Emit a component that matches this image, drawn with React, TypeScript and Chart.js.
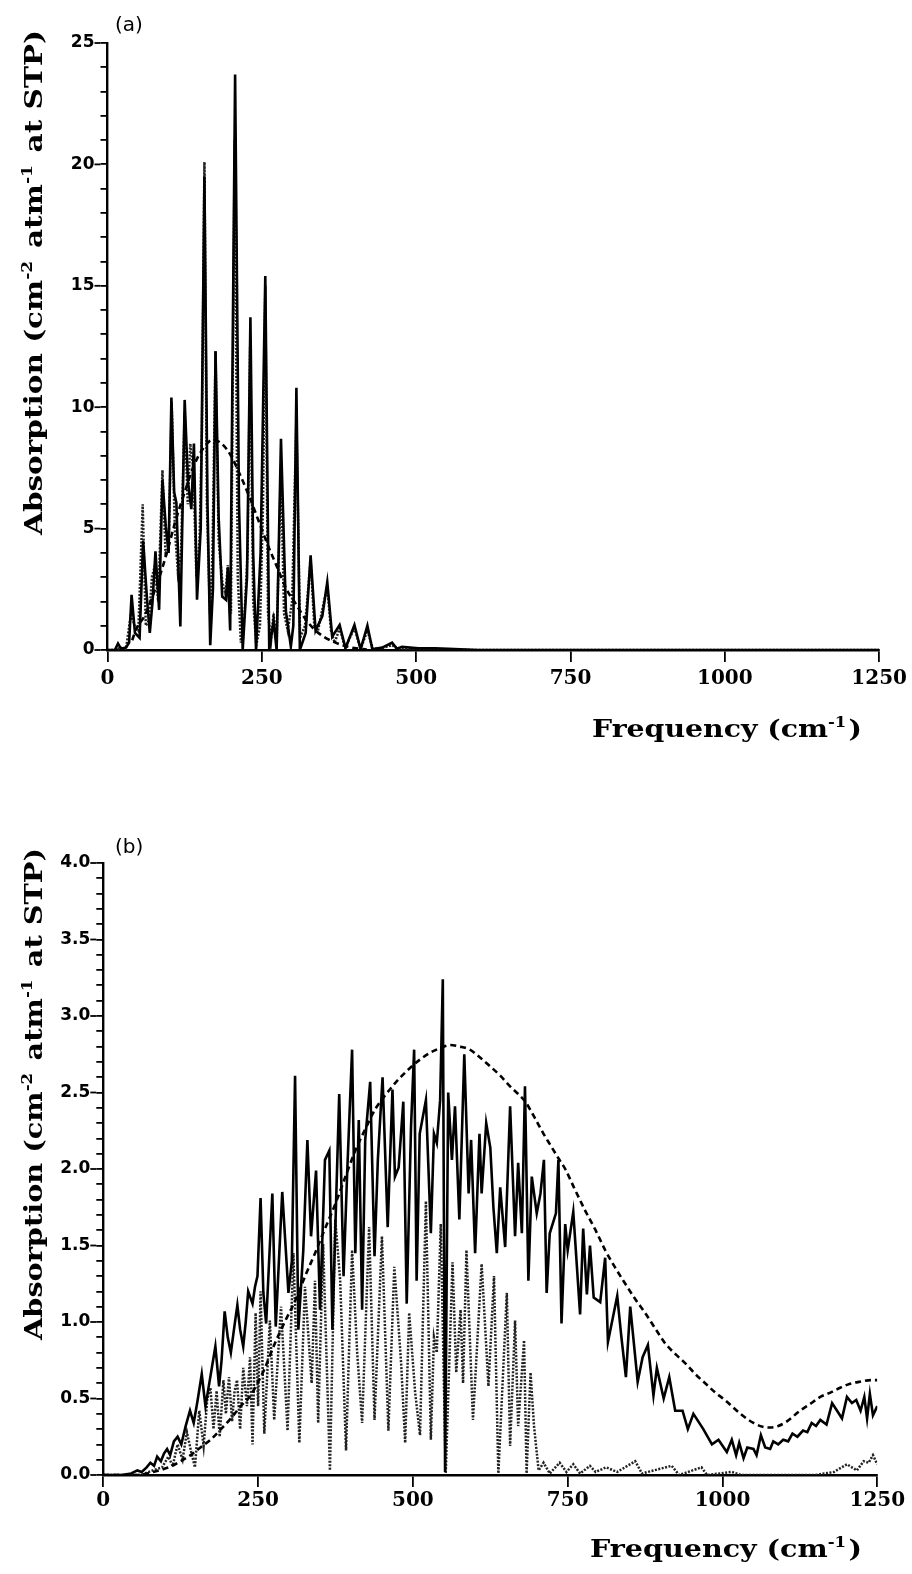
import React, { useEffect, useRef } from 'react';
import { Chart, registerables } from 'chart.js';

Chart.register(...registerables);

type Pt = [number, number];

// ---------- Panel (a) ----------
const aSolid: Pt[] = [
  [0, 0], [12, 0], [17, 0.27], [22, 0.05], [30, 0.1], [35, 0.3], [39, 2.27], [44.5, 0.7], [52, 0.5], [57.7, 4.5],
  [64, 2.1], [68.5, 0.7], [73, 2.0], [77.7, 4.06], [83.6, 1.65], [89, 7.0], [94.4, 5.1], [99, 4.0], [103.5, 10.4], [108, 6.5],
  [111.6, 6.06], [118, 0.97], [125, 10.3], [130.4, 6.9], [135.8, 5.8], [140, 8.5], [145, 2.07], [151, 5.0], [157, 19.5], [162, 6.0],
  [166.4, 0.2], [170.8, 2.5], [175, 12.3], [180, 5.5], [185.8, 2.2], [192, 2.07], [194.9, 3.4], [198.7, 0.8], [206.7, 23.7], [213, 6.0],
  [219, 0], [226, 3.0], [231.5, 13.7], [236, 4.0], [240.6, 0], [248, 4.0], [255.6, 15.4], [262, 0], [269, 1.2], [274, 0],
  [281, 8.7], [289, 1.6], [297, 0.14], [301, 1.0], [306, 10.8], [311.6, 0], [321, 0.7], [329, 3.9], [337, 0.8], [348, 1.4],
  [356, 2.8], [364, 0.55], [376, 1.03], [385.5, 0.07], [400, 1.03], [410, 0.03], [421, 1.0], [429, 0.03], [445, 0.1], [461, 0.3],
  [469, 0.05], [477, 0.13], [504, 0.07], [531, 0.07], [552, 0.05], [600, 0], [1250, 0],
];

const aDotted: Pt[] = [
  [0, 0], [15, 0], [20, 0.1], [30, 0.05], [38, 1.5], [44, 1.0], [50, 0.8], [57, 6.0], [62, 1.0], [67, 1.2],
  [72, 3.0], [77, 3.5], [82, 2.0], [89, 7.4], [94, 4.0], [99, 4.2], [104, 10.2], [109, 5.0], [114, 3.2], [119, 4.0],
  [125, 9.8], [130, 6.0], [134, 8.5], [139, 7.5], [144, 3.0], [149, 4.5], [153, 9.0], [157, 20.1], [161, 6.0], [166, 1.5],
  [170, 4.0], [175, 12.3], [180, 4.5], [186, 2.8], [191, 2.3], [195, 3.5], [200, 1.5], [206, 21.0], [211, 3.0], [216, 0.3],
  [222, 1.5], [227, 4.0], [231, 12.5], [236, 2.0], [241, 0.2], [247, 1.0], [252, 6.0], [255.6, 15.0], [260, 1.5], [265, 0.4],
  [269, 1.5], [274, 0.3], [281, 7.5], [286, 1.5], [292, 0.8], [299, 2.0], [306, 9.5], [312, 0.5], [320, 1.0], [329, 3.7],
  [335, 1.0], [341, 0.8], [349, 1.8], [356, 2.6], [362, 0.8], [368, 0.3], [376, 0.9], [385, 0.1], [400, 0.9], [410, 0.05],
  [421, 0.8], [430, 0.05], [445, 0.08], [461, 0.2], [470, 0.05], [500, 0.05], [550, 0.02], [600, 0], [1250, 0],
];

const aDashed: Pt[] = [
  [40, 0.4], [47, 0.9], [60, 1.4], [80, 2.7], [95, 3.9], [110, 5.3], [125, 6.5], [140, 7.6], [155, 8.3], [170, 8.65],
  [185, 8.5], [200, 8.0], [215, 7.2], [230, 6.3], [245, 5.3], [260, 4.3], [275, 3.4], [290, 2.5], [305, 1.9], [320, 1.3],
  [335, 0.85], [350, 0.55], [365, 0.35], [380, 0.2], [400, 0.08], [420, 0.02],
];

// ---------- Panel (b) ----------
const bSolid: Pt[] = [
  [0, 0], [30, 0], [45, 0.01], [55, 0.03], [62, 0.02], [70, 0.05], [76, 0.08], [82, 0.06], [87, 0.12], [93, 0.09],
  [98, 0.14], [103, 0.17], [108, 0.13], [114, 0.22], [120, 0.25], [126, 0.2], [133, 0.32], [140, 0.42], [146, 0.34], [152, 0.48],
  [159, 0.66], [165, 0.45], [172, 0.62], [181, 0.84], [187, 0.58], [191, 0.75], [196, 1.07], [201, 0.9], [206, 0.8], [211, 0.95],
  [216.5, 1.11], [221, 0.95], [226, 0.84], [230, 1.0], [234, 1.2], [241, 1.12], [245, 1.23], [249, 1.3], [254, 1.81], [258.5, 1.19],
  [263, 0.99], [273, 1.84], [278.5, 0.97], [289, 1.85], [299, 1.19], [304.5, 1.4], [309.7, 2.61], [315, 0.95], [323, 1.47], [329.6, 2.19],
  [335.5, 1.56], [343.6, 1.99], [350, 1.08], [358, 2.06], [365, 2.12], [370, 0.95], [381, 2.49], [388, 1.3], [393.8, 1.97], [401.8, 2.78],
  [407, 1.45], [412.6, 2.32], [418, 1.08], [423, 2.19], [431, 2.57], [438, 1.43], [443.4, 2.06], [451, 2.6], [459.3, 1.62], [467, 2.52],
  [471, 1.95], [477, 2.01], [484.5, 2.44], [490, 1.12], [497, 2.28], [502, 2.78], [506, 1.27], [511, 2.23], [521, 2.45], [529, 1.58],
  [534, 2.23], [538.6, 2.17], [544, 2.45], [548.3, 3.24], [552, 0.02], [557, 2.5], [563, 2.06], [568, 2.41], [575, 1.67], [583, 2.75],
  [590, 1.84], [594, 2.19], [600.5, 1.45], [607.5, 2.23], [611, 1.84], [618.4, 2.3], [625, 2.14], [630, 1.75], [635.5, 1.45], [641, 1.88],
  [649, 1.49], [657, 2.41], [665, 1.56], [670, 2.04], [676, 1.58], [681, 2.54], [686.5, 1.27], [692, 1.95], [700, 1.71], [706, 1.84],
  [711.6, 2.06], [716, 1.19], [721, 1.58], [731, 1.71], [735, 2.06], [740, 0.99], [746, 1.64], [750, 1.47], [759, 1.72], [770, 1.05],
  [775, 1.61], [781, 1.18], [786, 1.5], [792, 1.16], [802.5, 1.13], [810.5, 1.42], [815, 0.87], [830, 1.17], [836.5, 0.91], [844, 0.64],
  [851, 1.1], [863, 0.61], [871, 0.77], [879.5, 0.85], [888.5, 0.52], [894, 0.7], [905, 0.5], [914, 0.64], [923.6, 0.42], [935.5, 0.42],
  [944, 0.3], [953, 0.4], [969, 0.3], [983, 0.2], [993.5, 0.23], [1002, 0.18], [1007, 0.15], [1015, 0.23], [1022, 0.13], [1027, 0.21],
  [1034, 0.11], [1040, 0.18], [1050, 0.17], [1055, 0.13], [1062, 0.26], [1069, 0.18], [1077, 0.17], [1082, 0.22], [1090, 0.2], [1098, 0.23],
  [1106, 0.22], [1113, 0.27], [1121, 0.25], [1130, 0.29], [1137, 0.28], [1144, 0.34], [1151, 0.32], [1158, 0.36], [1168, 0.33], [1177, 0.47],
  [1185, 0.42], [1193, 0.37], [1201, 0.51], [1209, 0.47], [1216, 0.49], [1223, 0.42], [1229, 0.51], [1233.5, 0.37], [1238, 0.53], [1243, 0.39],
  [1250, 0.45],
];

const bDotted: Pt[] = [
  [0, 0], [60, 0], [80, 0.03], [95, 0.05], [105, 0.12], [112, 0.06], [120, 0.2], [128, 0.1], [135, 0.28], [142, 0.15],
  [148, 0.05], [155, 0.42], [162, 0.19], [168, 0.5], [173, 0.57], [178, 0.3], [183, 0.55], [188, 0.25], [194, 0.62], [198, 0.4],
  [203, 0.64], [208, 0.35], [212, 0.55], [216, 0.62], [221, 0.3], [226, 0.7], [232, 0.45], [237, 0.77], [241, 0.2], [246, 1.06],
  [250, 0.45], [254, 1.2], [260, 0.27], [269, 1.01], [276, 0.36], [287, 1.1], [297.6, 0.29], [307, 1.45], [316.6, 0.21], [325.7, 1.23],
  [336.5, 0.6], [341.9, 1.27], [347, 0.34], [355, 1.51], [366, 0.03], [374.6, 1.67], [382.6, 1.27], [392, 0.16], [401.8, 1.47], [410, 0.8],
  [418, 0.34], [429.3, 1.62], [438, 0.36], [450, 1.56], [460.4, 0.29], [470, 1.36], [481, 0.73], [487.5, 0.21], [494, 1.06], [503.6, 0.54],
  [511.5, 0.26], [521, 1.79], [529, 0.23], [534, 0.9], [538.6, 0.8], [545, 1.64], [553, 0.01], [564, 1.39], [570, 0.67], [577, 1.08],
  [581, 0.6], [586.5, 1.47], [597, 0.36], [611, 1.38], [622, 0.58], [631, 1.3], [638, 0.01], [651.7, 1.19], [657, 0.19], [665, 1.01],
  [670, 0.32], [679.5, 0.88], [683.6, 0.01], [690, 0.67], [695.6, 0.32], [703, 0.03], [711, 0.08], [721, 0.01], [737, 0.08], [748, 0.02],
  [759, 0.07], [770, 0.01], [786, 0.06], [795, 0.02], [812, 0.05], [830, 0.02], [859, 0.09], [870, 0.01], [918, 0.06], [930, 0],
  [966, 0.05], [975, 0], [1015, 0.02], [1030, 0], [1150, 0], [1180, 0.02], [1201, 0.07], [1217, 0.03], [1228, 0.09], [1236, 0.08],
  [1243, 0.13], [1250, 0.07],
];

const bDashed: Pt[] = [
  [0, 0], [60, 0], [71, 0.01], [90, 0.03], [109, 0.055], [125, 0.09], [141, 0.13], [157, 0.18], [173, 0.23], [190, 0.3],
  [206, 0.37], [222, 0.45], [238, 0.52], [245, 0.57], [260, 0.69], [277, 0.86], [293, 1.0], [310, 1.14], [326, 1.3], [342, 1.45],
  [358, 1.61], [374.6, 1.77], [391, 1.95], [407, 2.12], [423, 2.26], [439, 2.39], [455, 2.48], [471, 2.56], [485, 2.62], [498, 2.67],
  [513, 2.72], [528, 2.76], [544, 2.79], [560, 2.81], [576, 2.8], [592, 2.78], [608, 2.73], [625, 2.67], [641, 2.61], [657, 2.54],
  [670, 2.49], [681.5, 2.44], [696, 2.34], [711, 2.23], [723, 2.15], [735, 2.07], [746, 2.0], [760, 1.88], [778, 1.73], [795, 1.6],
  [810.5, 1.47], [826, 1.36], [843, 1.25], [859, 1.15], [875, 1.06], [891, 0.96], [907.5, 0.86], [924, 0.79], [940, 0.73], [956, 0.66],
  [972, 0.6], [988, 0.54], [1004, 0.49], [1029, 0.4], [1050, 0.34], [1065, 0.315], [1077, 0.31], [1090, 0.32], [1104, 0.35], [1125, 0.42],
  [1140, 0.46], [1158, 0.51], [1175, 0.54], [1190, 0.57], [1205, 0.595], [1222, 0.61], [1240, 0.62], [1250, 0.62],
];

const xTickStep = 250;
const xMax = 1250;
const aYMax = 25, aYMinor = 1, aYMajor = 5;
const bYMax = 4, bYMinor = 0.1, bYMajor = 0.5;

const SERIF = '"DejaVu Serif", "Liberation Serif", serif';
const SANS = '"DejaVu Sans", "Liberation Sans", sans-serif';

type Part = { t: string; sup?: boolean };
const X_TITLE: Part[] = [{ t: 'Frequency (cm' }, { t: '-1', sup: true }, { t: ')' }];
const Y_TITLE: Part[] = [
  { t: 'Absorption (cm' }, { t: '-2', sup: true }, { t: ' atm' }, { t: '-1', sup: true }, { t: ' at STP)' },
];

function richText(ctx: CanvasRenderingContext2D, parts: Part[], size: number, draw: boolean) {
  let cx = 0;
  for (const p of parts) {
    const s = p.sup ? size * 0.58 : size;
    ctx.font = `bold ${s}px ${SERIF}`;
    const w = ctx.measureText(p.t).width;
    if (draw) ctx.fillText(p.t, cx, p.sup ? -size * 0.42 : 0);
    cx += w + (p.sup ? 2 : 0);
  }
  return cx;
}

interface PanelCfg {
  tag: string;
  top: number;
  height: number;
  left: number;
  right: number;
  areaTop: number;
  areaBottom: number;
  yMax: number;
  yMinor: number;
  yMajor: number;
  decimals: number;
  xLabelPad: number;
  solid: Pt[];
  dotted: Pt[];
  dashed: Pt[];
  tagPos: [number, number];
  xTitle: { x0: number; x1: number; base: number };
  yTitle: { base: number; y0: number; y1: number };
}

const toXY = (s: Pt[]) => s.map(([x, y]) => ({ x, y }));

function Panel({ cfg }: { cfg: PanelCfg }) {
  const ref = useRef<HTMLCanvasElement>(null);
  useEffect(() => {
    if (!ref.current) return;
    const isMajor = (v: number) => Math.abs(v / cfg.yMajor - Math.round(v / cfg.yMajor)) < 1e-6;
    const decor = {
      id: 'decor',
      afterDraw(chart: any) {
        const ctx: CanvasRenderingContext2D = chart.ctx;
        const ys = chart.scales.y;
        ctx.save();
        ctx.strokeStyle = '#000';
        ctx.lineWidth = 1.8;
        ys.ticks.forEach((t: any) => {
          if (isMajor(t.value)) {
            const py = ys.getPixelForValue(t.value);
            ctx.beginPath();
            ctx.moveTo(chart.chartArea.left - 13, py);
            ctx.lineTo(chart.chartArea.left - 7, py);
            ctx.stroke();
          }
        });
        ctx.fillStyle = '#000';
        ctx.textAlign = 'left';
        ctx.textBaseline = 'alphabetic';
        // panel tag
        ctx.font = `20px ${SANS}`;
        ctx.fillText(cfg.tag, cfg.tagPos[0], cfg.tagPos[1]);
        // x title
        const size = 24;
        const wx = richText(ctx, X_TITLE, size, false);
        ctx.save();
        ctx.translate(cfg.xTitle.x0, cfg.xTitle.base);
        ctx.scale((cfg.xTitle.x1 - cfg.xTitle.x0) / wx, 1);
        richText(ctx, X_TITLE, size, true);
        ctx.restore();
        // y title
        const wy = richText(ctx, Y_TITLE, size, false);
        ctx.save();
        ctx.translate(cfg.yTitle.base, cfg.yTitle.y1);
        ctx.rotate(-Math.PI / 2);
        ctx.scale((cfg.yTitle.y1 - cfg.yTitle.y0) / wy, 1);
        richText(ctx, Y_TITLE, size, true);
        ctx.restore();
        ctx.restore();
      },
    };
    const chart = new Chart(ref.current, {
      type: 'line',
      data: {
        datasets: [
          {
            label: 'solid',
            data: toXY(cfg.solid),
            borderColor: '#000',
            borderWidth: 2.6,
            pointRadius: 0,
            tension: 0,
            order: 0,
          },
          {
            label: 'dashed',
            data: toXY(cfg.dashed),
            borderColor: '#000',
            borderWidth: 2.6,
            borderDash: [6, 4],
            pointRadius: 0,
            tension: 0.4,
            cubicInterpolationMode: 'monotone',
            order: 1,
          },
          {
            label: 'dotted',
            data: toXY(cfg.dotted),
            borderColor: '#222',
            borderWidth: 2.5,
            borderDash: [2, 1.5],
            pointRadius: 0,
            tension: 0,
            order: 2,
          },
        ] as any,
      },
      options: {
        animation: false,
        responsive: false,
        devicePixelRatio: 1,
        layout: { padding: { left: 0, right: 912 - cfg.right, top: cfg.areaTop, bottom: 0 } },
        plugins: { legend: { display: false }, tooltip: { enabled: false } },
        scales: {
          x: {
            type: 'linear',
            min: 0,
            max: xMax,
            afterFit: (s: any) => {
              s.height = cfg.height - cfg.areaBottom;
            },
            ticks: {
              stepSize: xTickStep,
              autoSkip: false,
              maxRotation: 0,
              color: '#000',
              padding: cfg.xLabelPad,
              font: { family: SERIF, size: 20, weight: 'bold' },
              callback: (v: any) => String(v),
            },
            grid: { drawOnChartArea: false, tickLength: 12, color: '#000', lineWidth: 1.8 },
            border: { color: '#000', width: 2.4 },
          },
          y: {
            type: 'linear',
            min: 0,
            max: cfg.yMax,
            afterFit: (s: any) => {
              s.width = cfg.left;
            },
            ticks: {
              stepSize: cfg.yMinor,
              autoSkip: false,
              color: '#000',
              padding: 6,
              font: { family: SANS, size: 17, weight: 'bold' },
              callback: (v: any) => (isMajor(Number(v)) ? Number(v).toFixed(cfg.decimals) : ''),
            },
            grid: { drawOnChartArea: false, tickLength: 7, color: '#000', lineWidth: 1.8 },
            border: { color: '#000', width: 2.4 },
          },
        },
      } as any,
      plugins: [decor],
    });
    return () => chart.destroy();
  }, [cfg]);
  return (
    <canvas
      ref={ref}
      width={912}
      height={cfg.height}
      style={{ position: 'absolute', left: 0, top: cfg.top, width: 912, height: cfg.height, display: 'block' }}
    />
  );
}

const panelA: PanelCfg = {
  tag: '(a)',
  top: 0,
  height: 800,
  left: 107.5,
  right: 882,
  areaTop: 43,
  areaBottom: 650,
  yMax: aYMax,
  yMinor: aYMinor,
  yMajor: aYMajor,
  decimals: 0,
  xLabelPad: 5,
  solid: aSolid,
  dotted: aDotted,
  dashed: aDashed,
  tagPos: [115, 31],
  xTitle: { x0: 592, x1: 862, base: 737 },
  yTitle: { base: 42, y0: 30, y1: 535 },
};

const panelB: PanelCfg = {
  tag: '(b)',
  top: 800,
  height: 774,
  left: 103.3,
  right: 877.3,
  areaTop: 63,
  areaBottom: 675,
  yMax: bYMax,
  yMinor: bYMinor,
  yMajor: bYMajor,
  decimals: 1,
  xLabelPad: 2,
  solid: bSolid,
  dotted: bDotted,
  dashed: bDashed,
  tagPos: [115, 53],
  xTitle: { x0: 590, x1: 862, base: 757 },
  yTitle: { base: 42, y0: 48, y1: 540 },
};

export default function App() {
  return (
    <div style={{ position: 'absolute', left: 0, top: 0, width: 912, height: 1574, background: '#fff' }}>
      <Panel cfg={panelA} />
      <Panel cfg={panelB} />
    </div>
  );
}
